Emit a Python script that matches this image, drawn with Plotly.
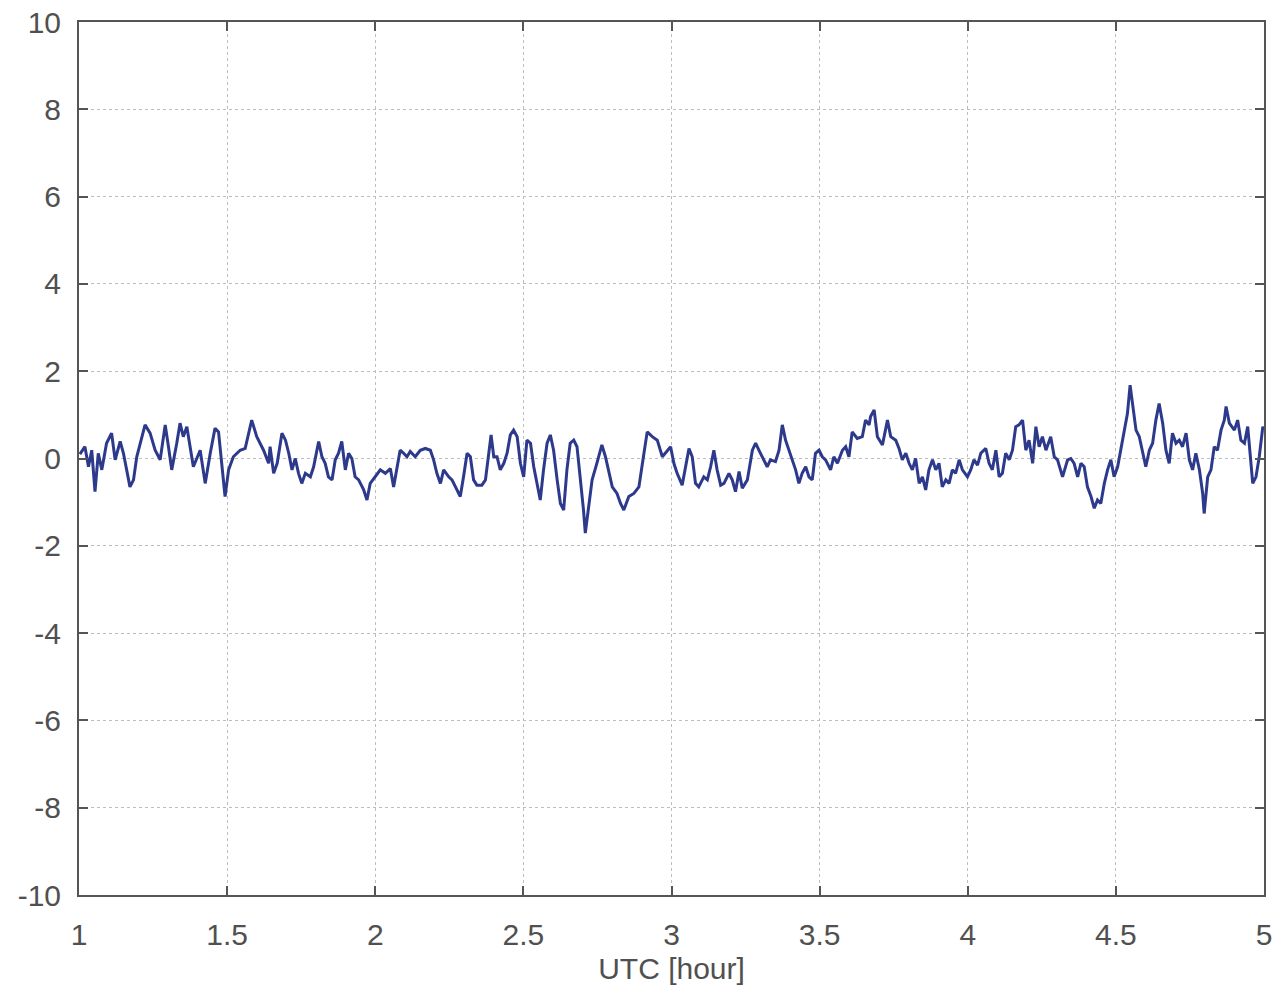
import plotly.graph_objects as go

hours = [
    1.003, 1.020, 1.032, 1.043, 1.054, 1.065, 1.077, 1.093, 1.110, 1.122, 1.139, 1.150, 1.172, 1.184, 1.195,
    1.206, 1.223, 1.240, 1.257, 1.274, 1.291, 1.302, 1.313, 1.330, 1.341, 1.352, 1.364, 1.375, 1.386, 1.409,
    1.426, 1.443, 1.459, 1.471, 1.482, 1.493, 1.505, 1.521, 1.544, 1.561, 1.583, 1.600, 1.623, 1.640,
    1.645, 1.657, 1.669, 1.685, 1.697, 1.708, 1.719, 1.730, 1.741, 1.752, 1.764, 1.781, 1.792, 1.809, 1.820,
    1.831, 1.842, 1.854, 1.865, 1.876, 1.887, 1.899, 1.910, 1.921, 1.932, 1.944, 1.961, 1.972, 1.983, 2.000,
    2.017, 2.034, 2.051, 2.062, 2.073, 2.084, 2.096, 2.107, 2.118, 2.135, 2.152, 2.169, 2.186, 2.197, 2.208,
    2.220, 2.231, 2.248, 2.259, 2.276, 2.287, 2.298, 2.310,
    2.321, 2.332, 2.343, 2.360, 2.372, 2.383, 2.391, 2.400, 2.411, 2.422, 2.434, 2.445, 2.456, 2.467, 2.479,
    2.490, 2.501, 2.512, 2.524, 2.535, 2.546, 2.557, 2.568, 2.580, 2.591, 2.602, 2.614, 2.625, 2.636, 2.647,
    2.658, 2.670, 2.681, 2.692, 2.703, 2.709, 2.720, 2.732, 2.748, 2.765, 2.777, 2.788, 2.800, 2.816, 2.828,
    2.839, 2.856, 2.873, 2.890, 2.907, 2.918, 2.935, 2.952, 2.969, 2.986,
    2.997, 3.008, 3.019, 3.036, 3.047, 3.059, 3.070, 3.081, 3.092, 3.109, 3.121, 3.132, 3.143, 3.154, 3.166,
    3.177, 3.194, 3.205, 3.216, 3.228, 3.239, 3.256, 3.273, 3.284, 3.295, 3.312, 3.323, 3.334, 3.351, 3.363,
    3.374, 3.385, 3.396, 3.408, 3.419, 3.430, 3.441, 3.453, 3.464, 3.475, 3.486, 3.498, 3.509, 3.520, 3.537,
    3.548, 3.560, 3.577, 3.588, 3.599, 3.610, 3.627, 3.644, 3.655, 3.667,
    3.672, 3.684, 3.695, 3.712, 3.729, 3.740, 3.757, 3.768, 3.779, 3.791, 3.802, 3.813, 3.824, 3.836, 3.847,
    3.858, 3.869, 3.881, 3.892, 3.903, 3.914, 3.926, 3.937, 3.948, 3.959, 3.971, 3.982, 3.999, 4.010, 4.021,
    4.033, 4.044, 4.061, 4.072, 4.083, 4.095, 4.106, 4.117, 4.128, 4.140, 4.151, 4.162, 4.173, 4.185, 4.196,
    4.207, 4.219, 4.230, 4.241, 4.252, 4.264, 4.280, 4.292, 4.303, 4.320, 4.337,
    4.348, 4.359, 4.371, 4.382, 4.393, 4.404, 4.416, 4.427, 4.438, 4.449, 4.461, 4.472, 4.483, 4.494, 4.506,
    4.517, 4.528, 4.539, 4.548, 4.556, 4.568, 4.579, 4.590, 4.601, 4.613, 4.624, 4.635, 4.646, 4.658, 4.669,
    4.680, 4.691, 4.703, 4.714, 4.725, 4.737, 4.748, 4.759, 4.770, 4.782, 4.793, 4.798, 4.810, 4.821, 4.832,
    4.843, 4.855, 4.866, 4.872, 4.883, 4.900, 4.911, 4.922, 4.934, 4.945, 4.956, 4.962, 4.973, 4.984, 4.996,
    5.000,
]

values = [
    0.10, 0.27, -0.19, 0.19, -0.76, 0.12, -0.26, 0.35, 0.58, -0.03, 0.39, 0.12, -0.65, -0.49, 0.04,
    0.35, 0.77, 0.58, 0.19, -0.03, 0.77, 0.27, -0.26, 0.35, 0.81, 0.50, 0.73, 0.27, -0.19, 0.19,
    -0.57, 0.12, 0.69, 0.61, -0.11, -0.87, -0.26, 0.04, 0.19, 0.23, 0.88, 0.50, 0.19, -0.11,
    0.27, -0.34, -0.11, 0.58, 0.42, 0.12, -0.26, 0.00, -0.34, -0.57, -0.34, -0.42, -0.19, 0.39, 0.04,
    -0.11, -0.42, -0.49, -0.03, 0.12, 0.39, -0.26, 0.12, 0.00, -0.42, -0.49, -0.72, -0.95, -0.57, -0.42,
    -0.26, -0.34, -0.23, -0.65, -0.26, 0.19, 0.12, 0.04, 0.16, 0.04, 0.19, 0.23, 0.19, -0.03, -0.34,
    -0.57, -0.26, -0.42, -0.49, -0.72, -0.87, -0.42, 0.12,
    0.04, -0.49, -0.61, -0.61, -0.49, 0.19, 0.54, 0.04, 0.04, -0.26, -0.11, 0.12, 0.54, 0.65, 0.50,
    -0.11, -0.42, 0.42, 0.35, -0.19, -0.57, -0.95, -0.26, 0.35, 0.54, 0.19, -0.49, -1.03, -1.18, -0.26,
    0.35, 0.42, 0.27, -0.42, -1.18, -1.71, -1.18, -0.49, -0.11, 0.31, 0.04, -0.26, -0.65, -0.80, -1.03,
    -1.18, -0.87, -0.80, -0.65, 0.12, 0.61, 0.50, 0.42, 0.04, 0.19,
    0.27, -0.11, -0.34, -0.61, -0.19, 0.23, 0.04, -0.57, -0.65, -0.42, -0.49, -0.19, 0.19, -0.26, -0.61,
    -0.57, -0.34, -0.49, -0.76, -0.30, -0.68, -0.49, 0.19, 0.35, 0.19, -0.03, -0.19, -0.03, -0.07, 0.19,
    0.77, 0.42, 0.19, -0.03, -0.26, -0.57, -0.34, -0.19, -0.42, -0.49, 0.12, 0.19, 0.04, -0.03, -0.26,
    0.04, -0.11, 0.19, 0.27, 0.04, 0.61, 0.46, 0.50, 0.88, 0.77,
    0.96, 1.11, 0.50, 0.31, 0.88, 0.50, 0.42, 0.23, -0.03, 0.12, -0.11, -0.26, 0.00, -0.57, -0.42,
    -0.72, -0.26, -0.03, -0.26, -0.11, -0.65, -0.49, -0.57, -0.26, -0.34, -0.03, -0.26, -0.42, -0.26, -0.03,
    -0.15, 0.12, 0.23, -0.11, -0.26, 0.19, -0.42, -0.34, 0.12, -0.03, 0.19, 0.73, 0.77, 0.88, 0.19,
    0.42, -0.11, 0.73, 0.27, 0.50, 0.19, 0.50, 0.04, -0.03, -0.42, -0.03,
    0.00, -0.11, -0.42, -0.11, -0.19, -0.65, -0.87, -1.14, -0.95, -1.03, -0.57, -0.26, -0.03, -0.42, -0.19,
    0.19, 0.58, 1.03, 1.68, 1.26, 0.65, 0.50, 0.12, -0.19, 0.19, 0.35, 0.88, 1.26, 0.81, 0.19,
    -0.11, 0.58, 0.35, 0.42, 0.27, 0.58, -0.03, -0.26, 0.12, -0.26, -0.80, -1.26, -0.42, -0.26, 0.27,
    0.19, 0.65, 0.88, 1.19, 0.81, 0.65, 0.88, 0.42, 0.35, 0.73, -0.03, -0.57, -0.42, 0.04, 0.73,
    0.65,
]

x_ticks = [1, 1.5, 2, 2.5, 3, 3.5, 4, 4.5, 5]
x_tick_labels = ["1", "1.5", "2", "2.5", "3", "3.5", "4", "4.5", "5"]
y_ticks = [-10, -8, -6, -4, -2, 0, 2, 4, 6, 8, 10]
y_tick_labels = ["-10", "-8", "-6", "-4", "-2", "0", "2", "4", "6", "8", "10"]

FONT = "Liberation Sans, Arial, sans-serif"
TEXT = "#505050"
AXIS = "#555555"

fig = go.Figure()
fig.add_trace(go.Scatter(
    x=hours, y=values, mode="lines",
    line=dict(color="#2d3a8c", width=3),
    showlegend=False, hoverinfo="skip",
))

fig.update_layout(
    width=1283, height=996,
    margin=dict(l=79, r=19, t=22, b=101, autoexpand=False),
    paper_bgcolor="white", plot_bgcolor="white",
    font=dict(family=FONT, size=30, color=TEXT),
    showlegend=False,
)
fig.update_xaxes(
    range=[1, 5], tickvals=x_ticks, ticktext=x_tick_labels,
    showgrid=True, gridcolor="#bdbdbd", griddash="dot", gridwidth=1,
    showline=True, linecolor=AXIS, linewidth=2, mirror="ticks",
    ticks="inside", ticklen=9, tickcolor=AXIS, tickwidth=1.5,
    ticklabelstandoff=12, zeroline=False, automargin=False,
    tickfont=dict(family=FONT, size=30, color=TEXT),
    title=dict(text="UTC [hour]", font=dict(family=FONT, size=30, color=TEXT), standoff=8),
)
fig.update_yaxes(
    range=[-10, 10], tickvals=y_ticks, ticktext=y_tick_labels,
    showgrid=True, gridcolor="#bdbdbd", griddash="dot", gridwidth=1,
    showline=True, linecolor=AXIS, linewidth=2, mirror="ticks",
    ticks="inside", ticklen=9, tickcolor=AXIS, tickwidth=1.5,
    ticklabelstandoff=10, zeroline=False, automargin=False,
    tickfont=dict(family=FONT, size=30, color=TEXT),
)

fig.write_html("out.html")
